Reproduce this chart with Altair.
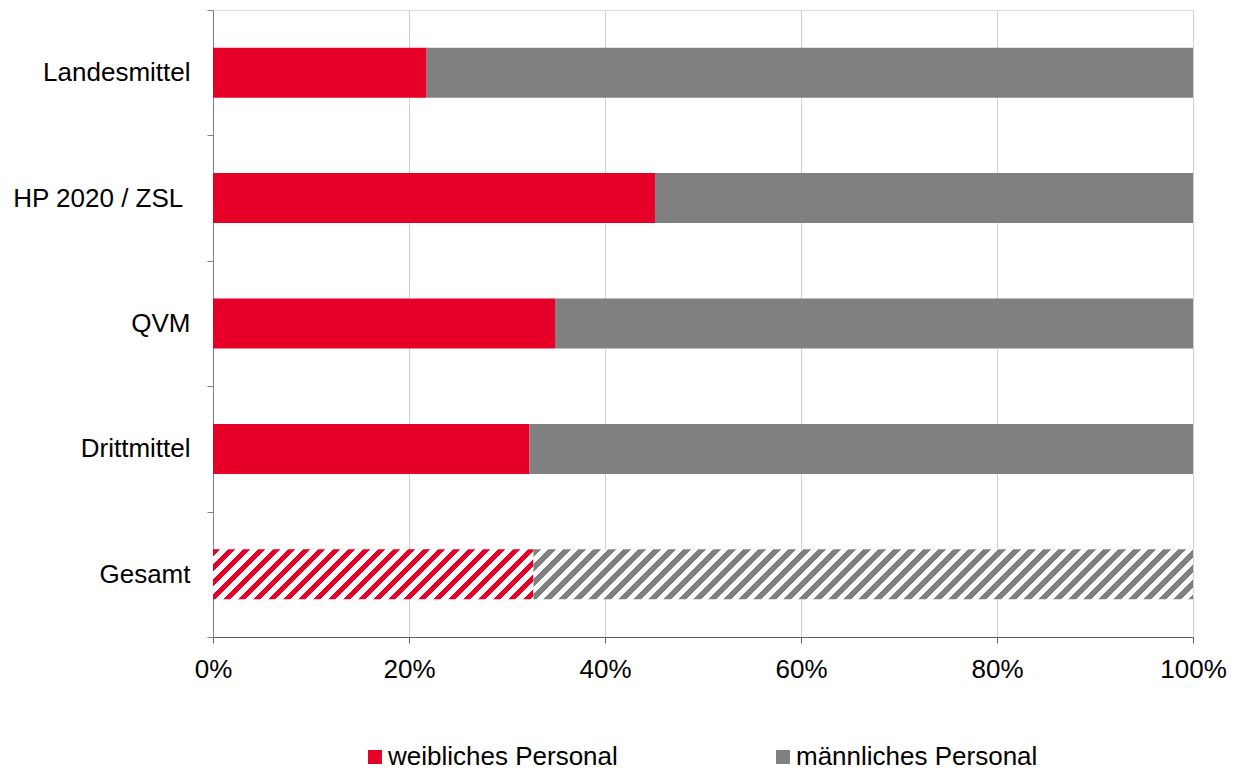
import altair as alt
import pandas as pd

# ---- data ----
categories = ["Landesmittel", "HP 2020 / ZSL", "QVM", "Drittmittel", "Gesamt"]
weiblich = [21.8, 45.1, 34.9, 32.3, 32.7]
maennlich = [78.2, 54.9, 65.1, 67.7, 67.3]
series_names = ["weibliches Personal", "männliches Personal"]
series_colors = ["#E60028", "#808080"]
x_ticks = [0, 20, 40, 60, 80, 100]

FONT = "Liberation Sans"
PLOT_W, PLOT_H = 980, 627
BAR = 50

rows = []
for c, w, m in zip(categories, weiblich, maennlich):
    rows.append({"Kategorie": c, "Geschlecht": series_names[0], "start": 0.0, "end": w})
    rows.append({"Kategorie": c, "Geschlecht": series_names[1], "start": w, "end": w + m})
df = pd.DataFrame(rows)


def hatch(color, w_px, h_px, period=15.0):
    r = h_px / w_px
    k = (1 + r) / (1 + r * r)
    total = w_px + h_px
    stops = []
    n = int(total / period) + 1
    for i in range(n):
        a = min(1.0, i * period / total)
        b = min(1.0, (i + 0.5) * period / total)
        c = min(1.0, (i + 1) * period / total)
        stops += [
            alt.GradientStop(offset=a, color=color),
            alt.GradientStop(offset=b, color=color),
            alt.GradientStop(offset=b, color="#FFFFFF"),
            alt.GradientStop(offset=c, color="#FFFFFF"),
        ]
    return alt.LinearGradient(gradient="linear", x1=0, y1=0, x2=k, y2=k * r, stops=stops)


g_w = weiblich[categories.index("Gesamt")]
g_m = maennlich[categories.index("Gesamt")]
grad_red = hatch(series_colors[0], g_w / 100 * PLOT_W, BAR)
grad_gray = hatch(series_colors[1], g_m / 100 * PLOT_W, BAR)

y_enc = alt.Y(
    "Kategorie:N",
    sort=categories,
    scale=alt.Scale(domain=categories, paddingInner=0, paddingOuter=0),
    axis=alt.Axis(
        title=None,
        tickBand="extent",
        tickSize=6,
        tickColor="#808080",
        domainColor="#808080",
        labelFont=FONT,
        labelFontSize=26,
        labelColor="#000000",
        labelPadding=17,
        labelLimit=0,
        grid=False,
        labelExpr="datum.value == 'HP 2020 / ZSL' ? datum.label + '\u00a0\u200b' : datum.label",
    ),
)
x_enc = alt.X(
    "start:Q",
    scale=alt.Scale(domain=[0, 100], nice=False),
    axis=alt.Axis(
        title=None,
        values=x_ticks,
        labelExpr="datum.value + '%'",
        labelFlush=False,
        grid=True,
        gridColor="#D0D0D0",
        tickSize=6,
        tickColor="#606060",
        domainColor="#606060",
        labelFont=FONT,
        labelFontSize=26,
        labelColor="#000000",
        labelPadding=13,
    ),
)

base = alt.Chart(df)

main = base.transform_filter(alt.datum.Kategorie != "Gesamt").mark_bar(size=BAR).encode(
    y=y_enc,
    x=x_enc,
    x2="end:Q",
    color=alt.Color(
        "Geschlecht:N",
        scale=alt.Scale(domain=series_names, range=series_colors),
        legend=alt.Legend(
            title=None,
            orient="none",
            legendX=149,
            legendY=734,
            direction="horizontal",
            symbolType="square",
            symbolSize=196,
            symbolStrokeWidth=0,
            labelFont=FONT,
            labelFontSize=26,
            labelColor="#000000",
            labelOffset=0,
            labelLimit=0,
            columnPadding=152,
        ),
    ),
)

hatch_w = base.transform_filter(
    (alt.datum.Kategorie == "Gesamt") & (alt.datum.Geschlecht == series_names[0])
).mark_bar(size=BAR, fill=grad_red).encode(y=y_enc, x=x_enc, x2="end:Q")

hatch_m = base.transform_filter(
    (alt.datum.Kategorie == "Gesamt") & (alt.datum.Geschlecht == series_names[1])
).mark_bar(size=BAR, fill=grad_gray).encode(y=y_enc, x=x_enc, x2="end:Q")

chart = (
    alt.layer(main, hatch_w, hatch_m)
    .properties(
        width=PLOT_W,
        height=PLOT_H,
        autosize=alt.AutoSizeParams(type="none"),
        padding={"left": 205, "top": 2, "right": 40, "bottom": 136},
    )
    .configure_view(stroke=None)
    .configure(font=FONT)
)

chart.save("out.html", embed_options={"renderer": "svg", "actions": False})
